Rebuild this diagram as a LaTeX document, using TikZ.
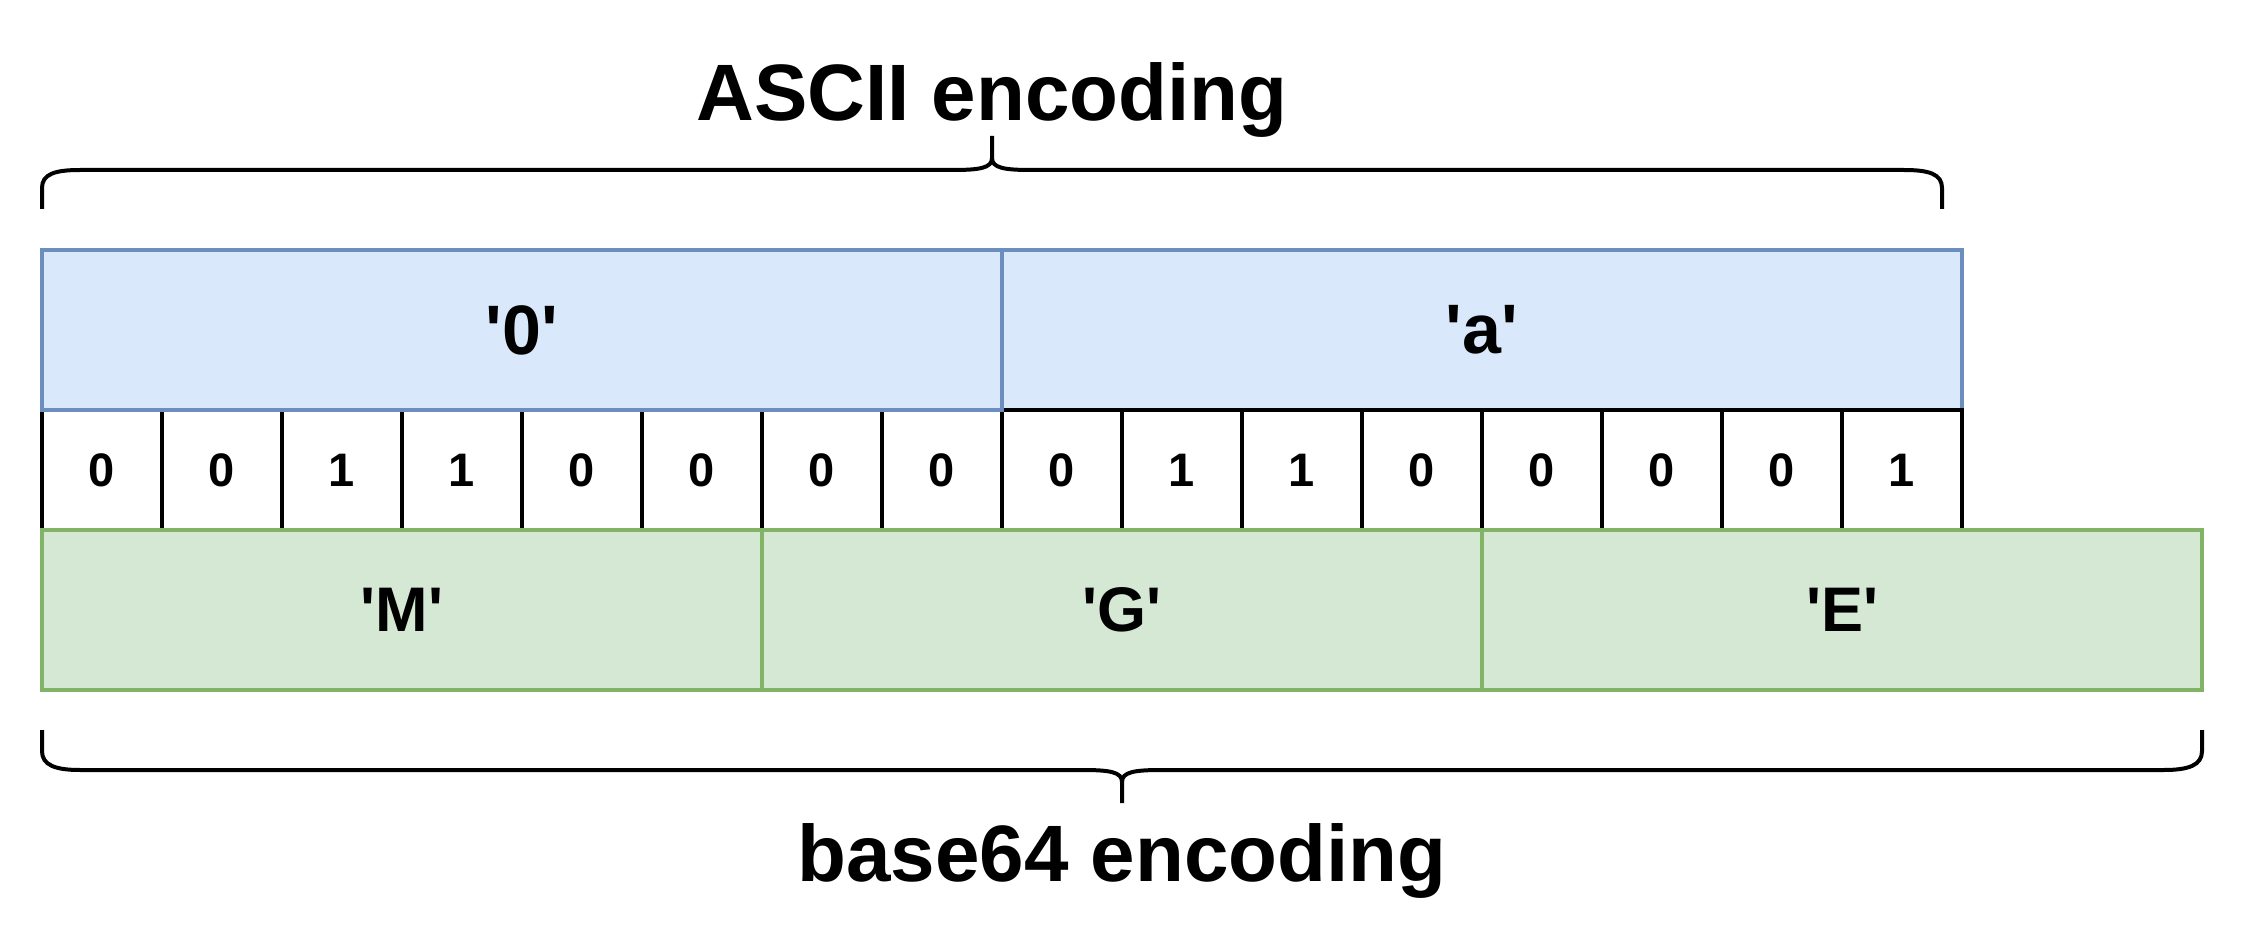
\documentclass[tikz,border=0pt]{standalone}
\usepackage{fontspec}
\newfontfamily\lsans{Liberation Sans}
\definecolor{bluefill}{HTML}{DAE8FC}
\definecolor{bluedraw}{HTML}{6C8EBF}
\definecolor{greenfill}{HTML}{D5E8D4}
\definecolor{greendraw}{HTML}{82B366}
\begin{document}
\begin{tikzpicture}[x=0.5pt,y=-0.5pt,
  box/.style={rectangle, inner sep=0pt, outer sep=0pt, anchor=north west, line width=2pt},
  asciibox/.style={box, fill=bluefill, draw=bluedraw, minimum width=480pt, minimum height=80pt, font=\lsans\fontsize{35}{42}\selectfont\bfseries},
  b64box/.style={box, fill=greenfill, draw=greendraw, minimum width=360pt, minimum height=80pt, font=\lsans\fontsize{31.5}{38}\selectfont\bfseries},
  bitbox/.style={box, fill=white, draw=black, minimum width=60pt, minimum height=60pt, font=\lsans\fontsize{23.5}{28}\selectfont\bfseries},
  title/.style={anchor=base, inner sep=0pt, font=\lsans\fontsize{40}{48}\selectfont\bfseries},
  bracestyle/.style={draw=black, line width=2pt}
]
\useasboundingbox (0,0) rectangle (2244,936);
% ASCII bytes (draw order matters for shared borders)
\node[asciibox] (a) at (1002,250) {'a'};
\foreach \b [count=\i] in {0,0,1,1,0,0,0,0,0,1,1,0,0,0,0,1}
  \node[bitbox] (b\i) at ({42+120*(\i-1)},410) {\b};
\node[asciibox] (zero) at (42,250) {'0'};
% base64 characters
\node[b64box] (M) at (42,530) {'M'};
\node[b64box] (G) at (762,530) {'G'};
\node[b64box] (E) at (1482,530) {'E'};
% titles
\node[title] (asciititle) at (992,121) {ASCII encoding};
\node[title] (b64title) at (1122,881) {base64 encoding};
% top brace
\coordinate (tl) at (42,209);
\coordinate (tm) at (992,136);
\coordinate (tr) at (1942,209);
\draw[bracestyle] (tl) -- (42,188) .. controls (42,174) and (55,170) .. (80,170) -- (952,170) .. controls (980,170) and (992,168) .. (992,158) -- (tm);
\draw[bracestyle] (tr) -- (1942,188) .. controls (1942,174) and (1929,170) .. (1904,170) -- (1032,170) .. controls (1004,170) and (992,168) .. (992,158);
% bottom brace
\coordinate (bl) at (42,730);
\coordinate (bm) at (1122,803);
\coordinate (br) at (2202,730);
\draw[bracestyle] (bl) -- (42,751) .. controls (42,765) and (55,770) .. (80,770) -- (1082,770) .. controls (1110,770) and (1122,772) .. (1122,782) -- (bm);
\draw[bracestyle] (br) -- (2202,751) .. controls (2202,765) and (2189,770) .. (2164,770) -- (1162,770) .. controls (1134,770) and (1122,772) .. (1122,782);
\end{tikzpicture}
\end{document}
